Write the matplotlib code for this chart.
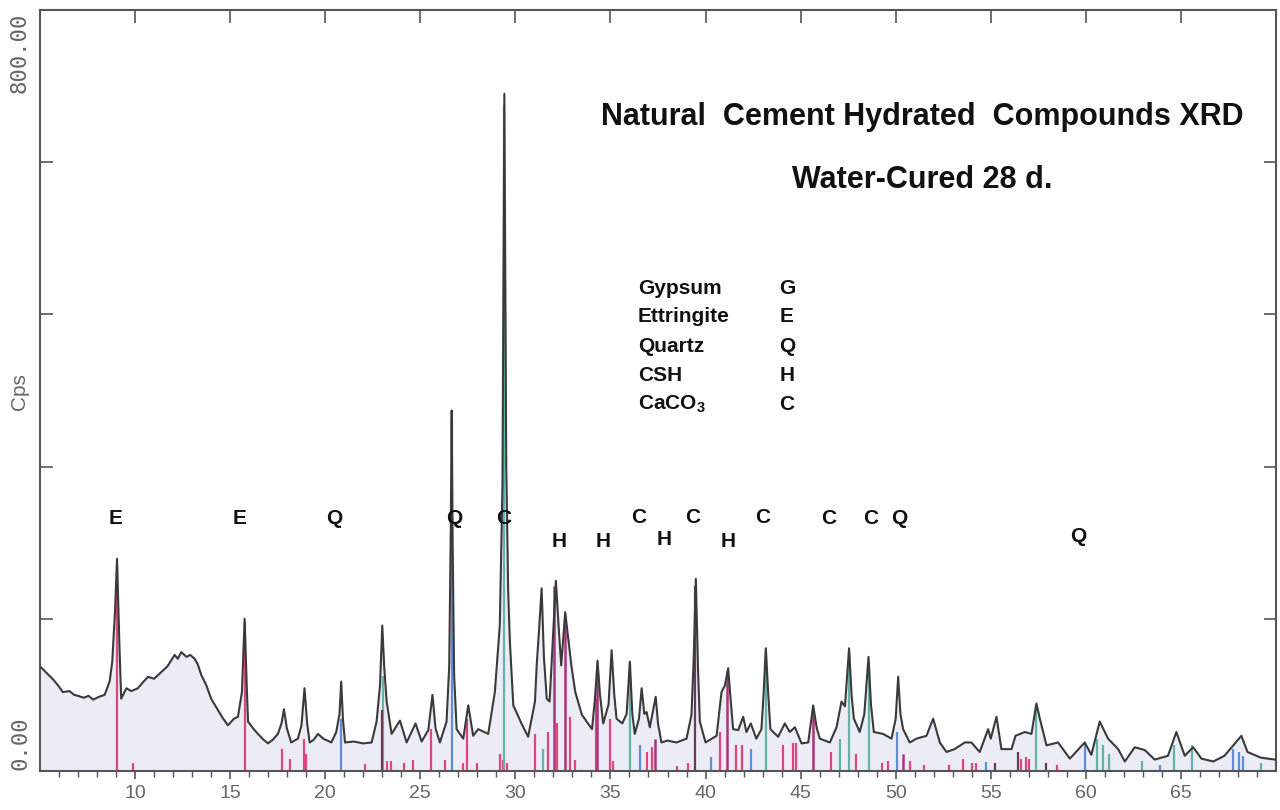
import matplotlib
matplotlib.use("Agg")
import matplotlib.pyplot as plt

# ---------------- data ----------------
two_theta = [5.05, 5.4, 5.7, 5.95, 6.2, 6.55, 6.8, 7.0, 7.3, 7.55, 7.8, 8.1, 8.4, 8.66, 8.8, 8.95,
             9.05, 9.18, 9.27, 9.54, 9.8, 10.15, 10.4, 10.68, 11.0, 11.38, 11.7, 12.08, 12.25, 12.43,
             12.7, 12.9, 13.13, 13.3, 13.48, 13.75, 14.0, 14.3, 14.6, 14.88, 15.2, 15.41, 15.62, 15.76,
             15.88, 15.94, 16.2, 16.46, 16.75, 16.99, 17.25, 17.51, 17.7, 17.83, 17.98, 18.21, 18.56,
             18.75, 18.91, 19.05, 19.18, 19.4, 19.62, 19.9, 20.32, 20.58, 20.75, 20.84, 20.93, 21.04,
             21.5, 22.0, 22.44, 22.7, 22.88, 23.0, 23.1, 23.23, 23.49, 23.93, 24.28, 24.75, 25.07, 25.42,
             25.64, 25.8, 26.03, 26.38, 26.52, 26.6, 26.65, 26.7, 26.78, 26.91, 27.26, 27.52, 27.78,
             28.04, 28.57, 28.92, 29.18, 29.32, 29.42, 29.52, 29.62, 29.71, 29.89, 30.32, 30.67, 31.03,
             31.12, 31.25, 31.38, 31.5, 31.65, 31.8, 31.95, 32.13, 32.28, 32.41, 32.62, 32.8, 32.95,
             33.15, 33.5, 34.03, 34.18, 34.32, 34.45, 34.62, 34.9, 35.06, 35.2, 35.32, 35.62, 35.85,
             36.02, 36.15, 36.28, 36.5, 36.64, 36.78, 36.9, 37.07, 37.38, 37.5, 37.68, 38.0, 38.47,
             39.0, 39.26, 39.38, 39.49, 39.6, 39.7, 40.0, 40.58, 40.84, 41.02, 41.19, 41.3, 41.45,
             41.72, 41.98, 42.15, 42.38, 42.67, 42.94, 43.05, 43.17, 43.3, 43.41, 43.82, 44.17, 44.43,
             44.7, 45.05, 45.4, 45.66, 45.85, 46.01, 46.54, 46.89, 47.15, 47.33, 47.55, 47.68, 47.8,
             48.11, 48.35, 48.57, 48.7, 48.85, 49.34, 49.78, 50.0, 50.13, 50.25, 50.39, 50.74, 51.09,
             51.62, 51.97, 52.32, 52.67, 53.1, 53.63, 53.98, 54.42, 54.86, 55.0, 55.3, 55.56, 56.09,
             56.3, 56.79, 57.14, 57.4, 57.58, 57.93, 58.54, 59.16, 59.94, 60.29, 60.73, 61.17, 61.7,
             62.05, 62.57, 63.1, 63.62, 64.32, 64.76, 65.2, 65.64, 66.08, 66.7, 67.29, 68.18, 68.5,
             69.2, 69.95]
cps = [109, 102, 96, 90, 83, 84, 80, 79, 77, 79, 75, 78, 80, 94, 115, 170,
       223, 130, 76, 87, 84, 87, 93, 99, 97, 104, 110, 122, 118, 125,
       120, 122, 118, 112, 101, 90, 76, 66, 56, 48, 55, 57, 83, 160,
       85, 52, 45, 39, 33, 29, 33, 39, 50, 65, 45, 30, 34,
       48, 87, 50, 30, 33, 39, 34, 30, 41, 60, 94, 55, 30,
       31, 29, 30, 52, 90, 153, 110, 73, 39, 53, 30, 50, 31, 43,
       80, 45, 30, 52, 110, 250, 379, 240, 100, 44, 34, 69, 37,
       44, 39, 83, 153, 300, 712, 320, 190, 136, 69, 50, 36, 73,
       111, 150, 192, 120, 76, 73, 130, 200, 150, 111, 167, 136, 110,
       83, 59, 44, 75, 116, 80, 50, 70, 127, 80, 55, 50, 60,
       115, 60, 39, 55, 87, 60, 62, 46, 78, 50, 30, 32, 30,
       34, 59, 120, 202, 110, 52, 30, 37, 83, 90, 108, 80, 44,
       43, 57, 41, 50, 34, 44, 80, 129, 80, 44, 36, 50, 41,
       46, 29, 30, 69, 45, 34, 30, 46, 73, 68, 129, 80, 55,
       41, 60, 120, 70, 41, 39, 34, 55, 99, 60, 44, 30, 34,
       37, 55, 30, 20, 23, 30, 30, 20, 44, 34, 57, 23, 23,
       37, 41, 39, 71, 55, 27, 30, 13, 30, 17, 52, 34, 23,
       10, 25, 22, 12, 16, 41, 16, 25, 13, 10, 16, 37, 20,
       14, 12]

# reference stick patterns (position, relative height in cps)
pink_pos = [9.05, 9.9, 15.76, 17.74, 18.16, 18.86, 18.99, 22.09, 23.23, 23.44, 24.13, 24.6,
            25.56, 26.29, 27.26, 27.43, 28.0, 29.18, 29.34, 29.57, 31.03, 31.72, 32.18, 32.89,
            33.14, 34.26, 34.98, 35.13, 36.9, 37.2, 38.5, 39.1, 40.78, 41.6, 41.9, 44.05, 44.6,
            44.74, 46.62, 47.9, 49.3, 49.6, 50.75, 51.5, 52.8, 53.54, 54.0, 54.2, 56.6, 56.85,
            57.0, 58.5]
pink_h = [215, 8, 157, 23, 13, 34, 18, 7, 10, 10, 8, 12,
          44, 12, 8, 55, 8, 18, 12, 8, 39, 41, 50, 57,
          12, 76, 55, 10, 20, 25, 5, 8, 41, 27, 27, 27, 29,
          29, 20, 18, 8, 10, 10, 6, 6, 13, 8, 8, 13, 15,
          13, 6]
magenta_pos = [32.05, 32.6, 34.3, 37.36, 41.15, 45.64, 50.4]
magenta_h = [195, 160, 110, 34, 105, 65, 18]
blue_pos = [20.84, 26.65, 36.55, 40.31, 42.38, 50.07, 54.77, 59.94, 63.9, 67.74, 68.08, 68.26]
blue_h = [55, 370, 27, 15, 23, 41, 9, 30, 6, 23, 20, 16]
teal_pos = [23.05, 29.42, 31.43, 36.02, 43.17, 47.09, 47.55, 48.57, 57.4, 60.59, 60.88,
            61.23, 62.93, 64.62, 65.59, 69.2]
teal_h = [100, 700, 23, 112, 125, 34, 125, 115, 65, 34, 27, 18, 10, 27, 27, 8]
dark_pos = [22.97, 39.47, 55.2, 56.44, 57.9]
dark_h = [64, 195, 8, 20, 8]

# peak labels
peak_letters = ["E", "E", "Q", "Q", "C", "H", "H", "C", "H", "C", "H", "C", "C", "C", "Q", "Q"]
peak_x = [8.95, 15.5, 20.5, 26.8, 29.4, 32.3, 34.6, 36.5, 37.8, 39.3, 41.2, 43.0, 46.5, 48.7, 50.2, 59.6]
peak_y = [265, 265, 265, 265, 265, 241, 241, 267, 243, 267, 241, 267, 265, 265, 265, 246]

legend_names = ["Gypsum", "Ettringite", "Quartz", "CSH", r"CaCO$_\mathbf{3}$"]
legend_codes = ["G", "E", "Q", "H", "C"]

x_ticks = [10, 15, 20, 25, 30, 35, 40, 45, 50, 55, 60, 65]
y_ticks = [160, 320, 480, 640]

# ---------------- figure ----------------
plt.rcParams['font.family'] = ['Liberation Sans', 'DejaVu Sans']
plt.rcParams['mathtext.fontset'] = 'custom'
plt.rcParams['mathtext.rm'] = 'Liberation Sans:bold'
plt.rcParams['mathtext.bf'] = 'Liberation Sans:bold'

W, H = 1280, 810
fig = plt.figure(figsize=(12.8, 8.1), dpi=100)
L, R, T, B = 40, 1276, 10, 771
ax = fig.add_axes([L / W, 1 - B / H, (R - L) / W, (B - T) / H])
ax.set_xlim(5, 70)
ax.set_ylim(0, 800)

ax.fill_between(two_theta, cps, 0, color='#ECECF6', zorder=1, linewidth=0)
ax.vlines(pink_pos, 0, pink_h, color='#E0457E', lw=1.6, zorder=2)
ax.vlines(magenta_pos, 0, magenta_h, color='#A8357A', lw=1.8, zorder=2)
ax.vlines(blue_pos, 0, blue_h, color='#5C8EDB', lw=1.6, zorder=2)
ax.vlines(teal_pos, 0, teal_h, color='#62B5A6', lw=1.6, zorder=2)
ax.vlines(dark_pos, 0, dark_h, color='#6B3A4F', lw=1.6, zorder=2)
ax.plot(two_theta, cps, color='#3A3A3A', lw=1.5, zorder=3)

for s in ax.spines.values():
    s.set_color('#555555')
    s.set_linewidth(1.5)

ax.set_xticks(x_ticks)
ax.set_xticklabels([str(v) for v in x_ticks])
ax.set_xticks(range(6, 70), minor=True)
ax.tick_params(axis='x', which='major', direction='out', length=6, width=1.2,
               colors='#555555', labelsize=14, labelcolor='#666666', pad=4)
ax.tick_params(axis='x', which='minor', direction='out', length=4, width=1.0, colors='#555555')
ax.set_yticks(y_ticks)
ax.set_yticklabels([''] * len(y_ticks))
ax.tick_params(axis='y', which='major', direction='in', length=9, width=1.2,
               colors='#555555', left=True, right=True)
sec = ax.secondary_xaxis('top')
sec.set_xticks(x_ticks)
sec.set_xticklabels([''] * len(x_ticks))
sec.tick_params(direction='in', length=9, width=1.2, colors='#555555')
sec.spines['top'].set_visible(False)

# y-axis labels
fig.text(20 / W, 1 - 770 / H, "0.00", rotation=90, ha='center', va='bottom',
         family='DejaVu Sans Mono', fontsize=16, color='#666666')
fig.text(20 / W, 1 - 13 / H, "800.00", rotation=90, ha='center', va='top',
         family='DejaVu Sans Mono', fontsize=16, color='#666666')
fig.text(20 / W, 1 - 392 / H, "Cps", rotation=90, ha='center', va='center',
         fontsize=15, color='#666666')

# titles
fig.text(922 / W, 1 - 117 / H, "Natural  Cement Hydrated  Compounds XRD", ha='center', va='center',
         fontsize=22, fontweight='bold', color='#111111')
fig.text(922 / W, 1 - 180 / H, "Water-Cured 28 d.", ha='center', va='center',
         fontsize=22, fontweight='bold', color='#111111')

# legend
leg_y = [288, 317, 346, 375, 404]
for name, code, yy in zip(legend_names, legend_codes, leg_y):
    fig.text(638 / W, 1 - yy / H, name, ha='left', va='center', fontsize=15,
             fontweight='bold', color='#111111')
    fig.text(787 / W, 1 - yy / H, code, ha='center', va='center', fontsize=15,
             fontweight='bold', color='#111111')

# peak letters
for lt, xx, yy in zip(peak_letters, peak_x, peak_y):
    ax.text(xx, yy, lt, ha='center', va='center', fontsize=15, fontweight='bold',
            color='#111111', zorder=5)

fig.savefig("out.png", dpi=100, facecolor='white')
